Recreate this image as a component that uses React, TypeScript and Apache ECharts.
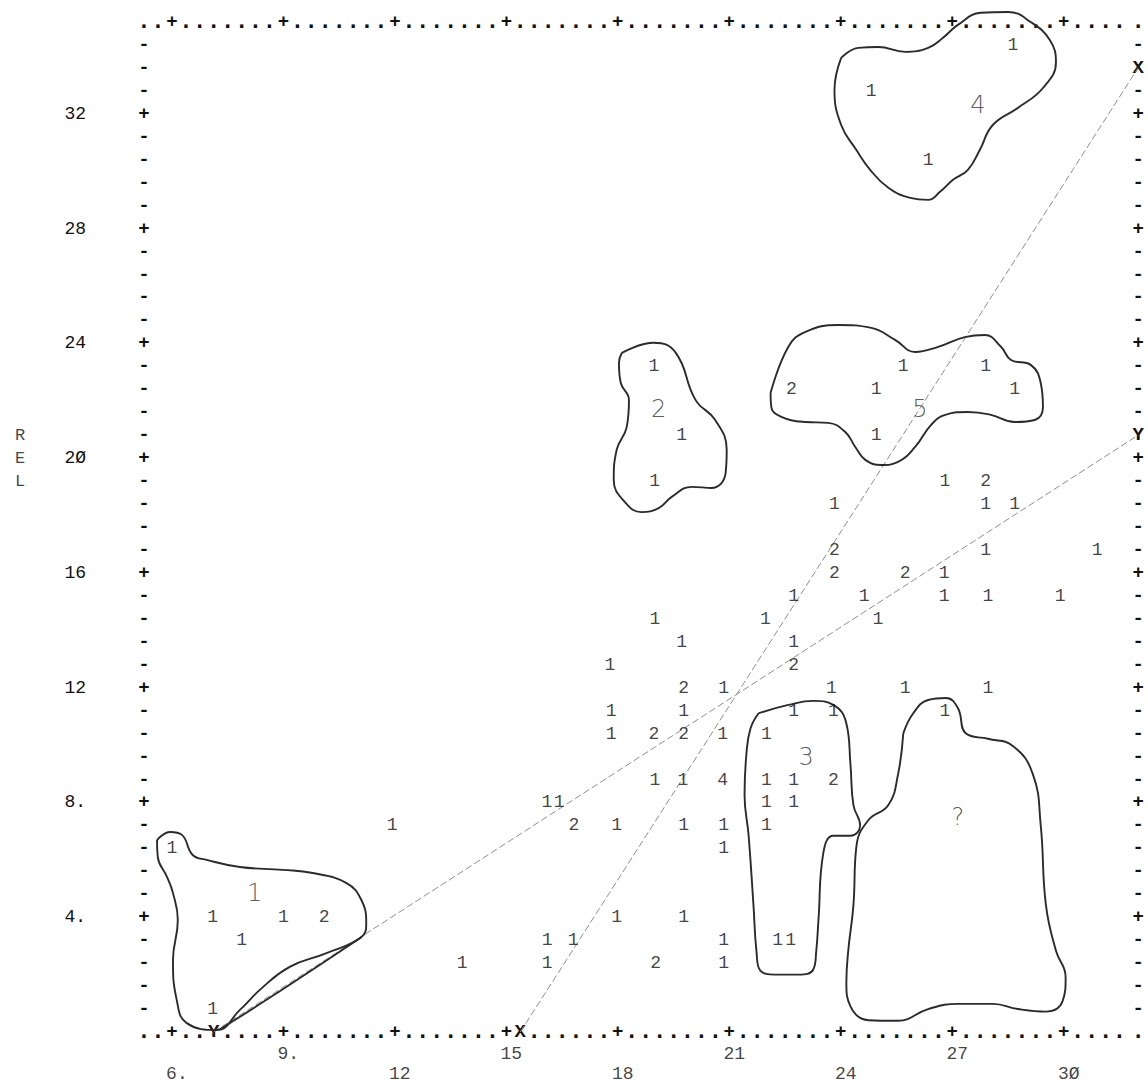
import { useEffect, useRef } from 'react';
import * as echarts from 'echarts';

const MONO = '"Liberation Mono", "DejaVu Sans Mono", monospace';
const HAND = '"DejaVu Sans", "Noto Sans", sans-serif';

// axis frame (line-printer grid)
const xMin = 5.25, xMax = 32, xStep = 0.375;
const yMin = 0, yMax = 35.2, yStep = 0.8;

const xMajorTicks = [6, 9, 12, 15, 18, 21, 24, 27, 30];
const xTickLabels = ['6.', '9.', '12', '15', '18', '21', '24', '27', '3Ø'];
const xTickRow = [2, 1, 2, 1, 2, 1, 2, 1, 2];
const yMajorTicks = [4, 8, 12, 16, 20, 24, 28, 32];
const yTickLabels = ['4.', '8.', '12', '16', '2Ø', '24', '28', '32'];
const bottomMarkX = [7.125, 15.375];
const bottomMarkChar = ['Y', 'X'];
const rightMarkY = [33.6, 20.8];
const rightMarkChar = ['X', 'Y'];
const axisTitle = 'R\nE\nL';
const axisTitleY = 20;

// printed counts
const ptX = [
  28.63, 24.82, 26.35,
  18.97, 19.72, 18.99,
  22.67, 24.95, 25.68, 27.9, 28.68, 24.95,
  26.8, 27.9,
  23.83, 27.9, 28.68,
  23.83, 27.9, 30.9,
  23.83, 25.73, 26.78,
  22.73, 24.63, 26.78, 27.96, 29.9,
  25.0, 21.97, 19.0,
  19.72, 22.73,
  17.79, 22.73,
  23.75, 25.73, 27.96, 19.77, 20.85,
  17.82, 19.77, 22.73, 23.8, 26.8,
  17.82, 18.97, 19.77, 20.82, 22.0,
  19.0, 19.75, 20.82, 22.0, 22.73, 23.8,
  22.0, 22.73, 16.09, 16.42,
  11.93, 16.82, 17.97, 19.77, 20.85, 22.0,
  20.85, 6.0,
  7.1, 9.0, 10.1, 17.97, 19.77,
  7.88, 22.3, 22.65, 16.1, 16.8, 20.85,
  13.81, 16.1, 19.02, 20.85,
  7.1,
];
const ptY = [
  34.4, 32.8, 30.4,
  23.2, 20.8, 19.2,
  22.4, 22.4, 23.2, 23.2, 22.4, 20.8,
  19.2, 19.2,
  18.4, 18.4, 18.4,
  16.8, 16.8, 16.8,
  16.0, 16.0, 16.0,
  15.2, 15.2, 15.2, 15.2, 15.2,
  14.4, 14.4, 14.4,
  13.6, 13.6,
  12.8, 12.8,
  12.0, 12.0, 12.0, 12.0, 12.0,
  11.2, 11.2, 11.2, 11.2, 11.2,
  10.4, 10.4, 10.4, 10.4, 10.4,
  8.8, 8.8, 8.8, 8.8, 8.8, 8.8,
  8.0, 8.0, 8.0, 8.0,
  7.2, 7.2, 7.2, 7.2, 7.2, 7.2,
  6.4, 6.4,
  4.0, 4.0, 4.0, 4.0, 4.0,
  3.2, 3.2, 3.2, 3.2, 3.2, 3.2,
  2.4, 2.4, 2.4, 2.4,
  0.8,
];
const ptN = [
  '1', '1', '1',
  '1', '1', '1',
  '2', '1', '1', '1', '1', '1',
  '1', '2',
  '1', '1', '1',
  '2', '1', '1',
  '2', '2', '1',
  '1', '1', '1', '1', '1',
  '1', '1', '1',
  '1', '1',
  '1', '2',
  '1', '1', '1', '2', '1',
  '1', '1', '1', '1', '1',
  '1', '2', '2', '1', '1',
  '1', '1', '4', '1', '1', '2',
  '1', '1', '1', '1',
  '1', '2', '1', '1', '1', '1',
  '1', '1',
  '1', '1', '2', '1', '1',
  '1', '1', '1', '1', '1', '1',
  '1', '1', '2', '1',
  '1',
];

// hand-written group numbers
const groupName = ['1', '2', '3', '4', '5', '?'];
const groupX = [8.23, 19.1, 23.07, 27.69, 26.13, 27.15];
const groupY = [4.84, 21.7, 9.6, 32.3, 21.7, 7.5];

// hand-drawn outlines
const outline1 = [
  [5.6, 6.69], [5.95, 6.97], [6.27, 6.87], [6.56, 6.17], [6.94, 6.0], [7.83, 5.75], [8.98, 5.65],
  [9.79, 5.54], [10.7, 5.19], [11.1, 4.6], [11.23, 3.8], [11.1, 3.31], [10.16, 2.75], [9.17, 2.27],
  [8.42, 1.53], [7.83, 0.77], [7.21, 0.07], [6.4, 0.31], [6.13, 1.12], [6.03, 2.51], [6.16, 3.9],
  [6.03, 4.84], [5.87, 5.4], [5.62, 6.1], [5.6, 6.69],
];
const outline1b = [[7.3, 0.1], [8.4, 1.0], [9.7, 2.1], [11.1, 3.3]];
const outline2 = [
  [18.11, 23.67], [18.97, 24.02], [19.56, 23.67], [20.09, 22.03], [20.62, 21.33], [20.93, 20.29],
  [20.9, 19.48], [20.52, 18.96], [19.99, 19.0], [19.45, 18.65], [19.1, 18.26], [18.64, 18.12],
  [18.21, 18.44], [17.89, 19.24], [17.97, 20.29], [18.24, 21.09], [18.3, 22.03], [18.08, 22.62],
  [18.03, 23.32], [18.11, 23.67],
];
const outline3 = [
  [21.79, 11.11], [22.59, 11.4], [23.26, 11.54], [23.8, 11.4], [24.15, 10.75], [24.26, 9.33],
  [24.34, 7.91], [24.52, 7.2], [24.26, 6.84], [23.8, 6.84], [23.53, 6.24], [23.4, 3.93],
  [23.34, 2.83], [23.26, 2.18], [22.86, 2.0], [22.32, 2.0], [21.84, 2.13], [21.73, 2.83],
  [21.65, 4.42], [21.52, 6.84], [21.41, 8.27], [21.46, 9.69], [21.57, 10.58], [21.79, 11.11],
];
const outline4 = [
  [24.01, 33.95], [23.83, 32.83], [24.01, 31.61], [24.42, 30.74], [24.79, 30.05], [25.28, 29.42],
  [25.87, 29.07], [26.35, 29.0], [26.67, 29.28], [27.02, 29.7], [27.42, 30.05], [27.74, 30.74],
  [28.09, 31.61], [28.77, 32.21], [29.44, 32.9], [29.79, 33.81], [29.62, 34.58], [29.11, 35.2],
  [28.5, 35.55], [27.77, 35.52], [27.15, 35.1], [26.75, 34.65], [26.35, 34.3], [25.73, 34.16],
  [25.01, 34.33], [24.47, 34.3], [24.01, 33.95],
];
const outline5 = [
  [22.11, 22.27], [22.59, 23.88], [23.05, 24.4], [23.93, 24.64], [24.82, 24.54], [25.46, 24.12],
  [26.0, 23.7], [26.62, 23.88], [27.34, 24.22], [27.88, 24.29], [28.31, 23.88], [28.58, 23.42],
  [29.11, 23.25], [29.38, 22.62], [29.44, 21.78], [29.22, 21.33], [28.68, 21.26], [28.04, 21.51],
  [27.42, 21.61], [26.81, 21.51], [26.43, 21.16], [26.0, 20.39], [25.54, 19.87], [25.09, 19.76],
  [24.66, 19.94], [24.39, 20.39], [24.12, 20.91], [23.66, 21.23], [23.05, 21.26], [22.4, 21.44],
  [22.13, 21.78], [22.11, 22.27],
];
const outline6 = [
  [25.68, 10.4], [25.95, 11.11], [26.35, 11.57], [26.83, 11.64], [27.15, 11.29], [27.37, 10.4],
  [27.96, 10.22], [28.63, 9.97], [29.17, 8.98], [29.38, 7.2], [29.52, 4.42], [29.79, 2.83],
  [30.05, 1.91], [29.97, 1.08], [29.52, 0.71], [28.77, 0.8], [28.09, 0.98], [27.15, 0.98],
  [26.35, 0.8], [25.54, 0.39], [24.74, 0.41], [24.26, 0.89], [24.15, 1.72], [24.2, 2.83],
  [24.34, 4.42], [24.42, 6.47], [24.74, 7.38], [25.28, 7.91], [25.54, 8.98], [25.68, 10.4],
];
const outlines = [outline1, outline1b, outline2, outline3, outline4, outline5, outline6];

// fitted lines (X and Y endpoints)
const lineX = [[15.375, 0], [32, 33.6]];
const lineY = [[7.125, 0], [32, 20.8]];

const near = (a: number, b: number) => Math.abs(a - b) < 1e-6;
const CLEAR = 'rgba(0,0,0,0)';

export default function App() {
  const ref = useRef<HTMLDivElement>(null);
  useEffect(() => {
    if (!ref.current) return;
    const chart = echarts.init(ref.current, undefined, { renderer: 'svg' });
    const frameText = {
      fontFamily: MONO, fontSize: 19, fontWeight: 'bold' as const, color: '#111',
      showMinLabel: true, showMaxLabel: true, lineHeight: 12,
      rich: { d: { fontFamily: MONO, fontSize: 23, fontWeight: 'bold', color: '#111', lineHeight: 12 } },
    };

    const xFrame = (marks: boolean) => (v: number) => {
      if (marks) {
        const i = bottomMarkX.findIndex((m) => near(m, v));
        if (i >= 0) return bottomMarkChar[i];
      }
      return xMajorTicks.some((t) => near(t, v)) ? '+' : '{d|.}';
    };
    const yFrame = (marks: boolean) => (v: number) => {
      if (near(v, yMin) || near(v, yMax)) return '';
      if (marks) {
        const i = rightMarkY.findIndex((m) => near(m, v));
        if (i >= 0) return rightMarkChar[i];
      }
      return yMajorTicks.some((t) => near(t, v)) ? '+' : '-';
    };
    const baseX = {
      type: 'value', min: xMin, max: xMax, interval: xStep,
      axisLine: { show: false }, axisTick: { show: false }, splitLine: { show: false },
    };
    const baseY = {
      type: 'value', min: yMin, max: yMax, interval: yStep,
      axisLine: { show: false }, axisTick: { show: false }, splitLine: { show: false },
    };
    const textScatter = (data: number[][], fmt: (i: number) => string, label: any, extra: any = {}) => ({
      type: 'scatter', symbolSize: 1, itemStyle: { color: CLEAR }, z: 5, clip: false, silent: true,
      data,
      label: { show: true, position: 'inside', formatter: (p: any) => fmt(p.dataIndex), ...label },
      ...extra,
    });

    const series: any[] = [];
    outlines.forEach((o) => {
      series.push({
        type: 'line', data: o, smooth: 0.45, symbol: 'none', clip: false, silent: true,
        lineStyle: { color: '#2b2b2b', width: 1.9 }, z: 3,
      });
    });
    [lineX, lineY].forEach((l) => {
      series.push({
        type: 'line', data: l, symbol: 'none', clip: false, silent: true,
        lineStyle: { color: '#8f8f8f', width: 1, type: [7, 3] }, z: 2,
      });
    });
    series.push(textScatter(ptX.map((x, i) => [x, ptY[i]]), (i) => ptN[i],
      { fontFamily: MONO, fontSize: 18, color: '#111' }));
    series.push(textScatter(groupX.map((x, i) => [x, groupY[i]]), (i) => groupName[i],
      { fontFamily: HAND, fontSize: 24, fontWeight: 'lighter', color: '#333' }));
    series.push(textScatter(xMajorTicks.map((x) => [x, yMin]), (i) => xTickLabels[i],
      { fontFamily: MONO, fontSize: 18, color: '#111' },
      { labelLayout: (p: any) => ({ dx: 5, dy: xTickRow[p.dataIndex] === 1 ? 22 : 42 }) }));
    series.push(textScatter([[xMin, axisTitleY]], () => axisTitle,
      { fontFamily: MONO, fontSize: 17, lineHeight: 23, color: '#111', offset: [-124, 0] }));

    chart.setOption({
      animation: false,
      backgroundColor: '#fff',
      grid: { left: 144, right: 7.5, top: 22, bottom: 52, containLabel: false },
      xAxis: [
        { ...baseX, position: 'bottom', axisLabel: { ...frameText, margin: 0, verticalAlign: 'middle', formatter: xFrame(true) } },
        { ...baseX, position: 'top', axisLabel: { ...frameText, margin: 0, verticalAlign: 'middle', formatter: xFrame(false) } },
      ],
      yAxis: [
        { ...baseY, position: 'left', axisLabel: { ...frameText, margin: 0, align: 'center', verticalAlign: 'middle', formatter: yFrame(false) } },
        { ...baseY, position: 'right', axisLabel: { ...frameText, margin: 0, align: 'center', verticalAlign: 'middle', formatter: yFrame(true) } },
        {
          type: 'value', min: yMin, max: yMax, interval: 4, position: 'left',
          axisLine: { show: false }, axisTick: { show: false }, splitLine: { show: false },
          axisLabel: {
            fontFamily: MONO, fontSize: 18, color: '#111', margin: 58, align: 'right',
            formatter: (v: number) => {
              const i = yMajorTicks.findIndex((t) => near(t, v));
              return i >= 0 ? yTickLabels[i] : '';
            },
          },
        },
      ],
      series,
    });
    return () => chart.dispose();
  }, []);
  return (
    <div
      ref={ref}
      style={{ position: 'absolute', left: 0, top: 0, width: 1148, height: 1084, background: '#fff' }}
    />
  );
}
